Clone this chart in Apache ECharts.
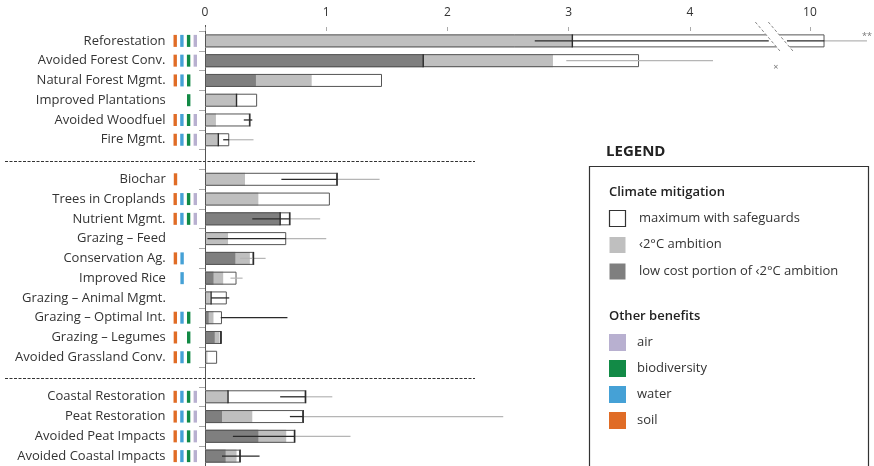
<!DOCTYPE html>
<html>
<head>
<meta charset="utf-8">
<script src="https://cdn.jsdelivr.net/npm/echarts@6/dist/echarts.min.js"></script>
<style>
  html, body { margin: 0; padding: 0; background: #fff; }
  #chart { width: 874px; height: 466px; }
</style>
</head>
<body>
<div id="chart"></div>
<script>
// rows top to bottom, '' and ' ' are the two spacer rows between sections
const categories = [
  'Reforestation', 'Avoided Forest Conv.', 'Natural Forest Mgmt.', 'Improved Plantations',
  'Avoided Woodfuel', 'Fire Mgmt.', '',
  'Biochar', 'Trees in Croplands', 'Nutrient Mgmt.', 'Grazing – Feed', 'Conservation Ag.',
  'Improved Rice', 'Grazing – Animal Mgmt.', 'Grazing – Optimal Int.', 'Grazing – Legumes',
  'Avoided Grassland Conv.', ' ',
  'Coastal Restoration', 'Peat Restoration', 'Avoided Peat Impacts', 'Avoided Coastal Impacts'
];
// s = soil, w = water, b = biodiversity, a = air
const benefits = [
  'swba', 'swba', 'swb', 'b', 'swba', 'swba', '',
  's', 'swba', 'swba', '', 'sw', 'w', '', 'swb', 'sb', 'swb', '',
  'swba', 'swba', 'swba', 'swba'
];
const lowCost  = [null, 1.80, 0.42, null, null, null, null, null, null, 0.62, null, 0.25, 0.07, null, 0.03, 0.08, null, null, null, 0.14, 0.44, 0.17];
const ambition = [3.03, 2.87, 0.88, 0.26, 0.09, 0.11, null, 0.33, 0.44, 0.62, 0.19, 0.37, 0.15, 0.04, 0.07, 0.12, 0.02, null, 0.19, 0.39, 0.67, 0.26];
const maximum  = [10.12, 3.58, 1.46, 0.43, 0.37, 0.20, null, 1.09, 1.03, 0.70, 0.67, 0.40, 0.26, 0.18, 0.14, 0.14, 0.10, null, 0.83, 0.81, 0.74, 0.29];
const blackLo  = [2.72, null, null, null, 0.32, 0.15, null, 0.63, null, 0.39, 0.02, null, null, 0.05, 0.13, null, null, null, 0.62, 0.70, 0.23, 0.14];
const blackHi  = [10.12, null, null, null, 0.39, 0.20, null, 1.09, null, 0.70, 0.67, null, null, 0.20, 0.68, null, null, null, 0.83, 0.81, 0.74, 0.45];
const greyLo   = [10.12, 2.98, null, null, null, 0.20, null, 1.09, null, 0.70, 0.67, 0.29, 0.21, null, null, null, null, null, 0.83, 0.81, 0.74, null];
const greyHi   = [10.47, 4.19, null, null, null, 0.40, null, 1.44, null, 0.95, 1.00, 0.50, 0.31, null, null, null, null, null, 1.05, 2.46, 1.20, null];
const tickMarks = [
  [3.03], [1.80], [], [0.26], [0.37], [0.11], [],
  [1.09], [], [0.62, 0.70], [], [0.40], [], [0.05], [], [0.13], [], [],
  [0.19, 0.83], [0.81], [0.74], [0.29]
];
const xTicks = [0, 1, 2, 3, 4, 10];
const axisBreak = [4.65, 9.81];

const mitigationLegend = ['maximum with safeguards', '‹2°C ambition', 'low cost portion of ‹2°C ambition'];
const benefitLegend = ['air', 'biodiversity', 'water', 'soil'];

const FONT = 'Open Sans';
const TEXT = '#333';
const DARK = '#7f7f7f';
const LIGHT = '#bfbfbf';
const benefitColors = { s: '#e06c26', w: '#45a1d6', b: '#128a46', a: '#b8b0d0' };
const legendBenefitColors = ['#b8b0d0', '#128a46', '#45a1d6', '#e06c26'];

const chart = echarts.init(document.getElementById('chart'));

function splitAtBreak(lo, hi) {
  if (lo < axisBreak[0] && hi > axisBreak[1]) return [[lo, axisBreak[0]], [axisBreak[1], hi]];
  return [[lo, hi]];
}

const richLabel = {
  n: { fontFamily: FONT, fontSize: 13, color: TEXT },
  g: { width: 8 },
  p: { width: 3.3 },
  e: { width: 3.3 }
};
Object.keys(benefitColors).forEach(k => {
  richLabel[k] = { width: 3.4, height: 12, backgroundColor: benefitColors[k] };
});

chart.setOption({
  animation: false,
  grid: { left: 205, right: 3.4, top: 31, height: 436, containLabel: false },
  xAxis: {
    type: 'value',
    position: 'top',
    min: 0,
    max: 10.5,
    breaks: [{ start: axisBreak[0], end: axisBreak[1], gap: 0.15 }],
    breakArea: { show: false },
    axisLine: { show: false },
    splitLine: { show: false },
    axisTick: { show: true, length: 4, customValues: xTicks, lineStyle: { color: '#aaa' } },
    axisLabel: { customValues: xTicks, color: TEXT, fontFamily: FONT, fontSize: 12, margin: 12 }
  },
  yAxis: {
    type: 'category',
    inverse: true,
    data: categories,
    axisLine: { show: true, lineStyle: { color: '#555', width: 1 } },
    axisTick: { show: true, length: 6, lineStyle: { color: '#aaa' } },
    axisLabel: {
      margin: 8,
      interval: 0,
      formatter: (value, index) => {
        if (!value.trim()) return '';
        const b = benefits[index];
        const marks = ['s', 'w', 'b', 'a'].map(k => (b.includes(k) ? '{' + k + '| }' : '{e| }'));
        return '{n|' + value + '}{g| }' + marks.join('{p| }');
      },
      rich: richLabel
    }
  },
  series: [
    {
      name: '‹2°C ambition', type: 'bar', data: ambition, barWidth: 13, barGap: '-100%',
      itemStyle: { color: LIGHT }
    },
    {
      name: 'low cost portion of ‹2°C ambition', type: 'bar', data: lowCost, barWidth: 13, barGap: '-100%',
      itemStyle: { color: DARK }
    },
    {
      name: 'maximum with safeguards', type: 'bar', data: maximum, barWidth: 13, barGap: '-100%',
      itemStyle: { color: 'rgba(255,255,255,0)', borderColor: '#555', borderWidth: 1 }
    },
    {
      name: 'uncertainty', type: 'custom', clip: false, z: 5,
      data: categories.map((c, i) => [0, i]),
      encode: { x: 0, y: 1 },
      renderItem: (params, api) => {
        const i = params.dataIndex;
        const y = api.coord([0, i])[1];
        const children = [];
        const addLine = (lo, hi, stroke, w) => {
          if (lo == null || hi == null) return;
          splitAtBreak(lo, hi).forEach(([a, b]) => {
            children.push({
              type: 'line',
              shape: { x1: api.coord([a, i])[0], y1: y, x2: api.coord([b, i])[0], y2: y },
              style: { stroke, lineWidth: w }
            });
          });
        };
        addLine(greyLo[i], greyHi[i], '#b5b5b5', 1.2);
        addLine(blackLo[i], blackHi[i], '#2a2a2a', 1.3);
        tickMarks[i].forEach(v => {
          const x = api.coord([v, i])[0];
          children.push({
            type: 'line',
            shape: { x1: x, y1: y - 6.5, x2: x, y2: y + 6.5 },
            style: { stroke: '#2a2a2a', lineWidth: 1.4 }
          });
        });
        return { type: 'group', children };
      }
    }
  ]
});

// decorations positioned from the axes
const px = v => chart.convertToPixel({ xAxisIndex: 0 }, v);
const py = i => chart.convertToPixel({ yAxisIndex: 0 }, i);
const breakX = (px(axisBreak[0]) + px(axisBreak[1])) / 2;
const rowY = py(0);
const slope = 0.85;
const slash = (dx) => [
  [breakX + dx - slope * (rowY - 22), 22],
  [breakX + dx + slope * (52 - rowY), 52]
];
const s1 = slash(-6.5), s2 = slash(6.5);
const axisX = px(0);

const graphics = [
  {
    type: 'polygon', z: 10,
    shape: { points: [s1[0], s2[0], s2[1], s1[1]] },
    style: { fill: '#fff' }
  },
  { type: 'line', z: 11, shape: { x1: s1[0][0], y1: s1[0][1], x2: s1[1][0], y2: s1[1][1] }, style: { stroke: '#888', lineWidth: 1, lineDash: [3, 2] } },
  { type: 'line', z: 11, shape: { x1: s2[0][0], y1: s2[0][1], x2: s2[1][0], y2: s2[1][1] }, style: { stroke: '#888', lineWidth: 1, lineDash: [3, 2] } },
  { type: 'text', z: 11, x: px(10.47), y: rowY - 4, style: { text: '**', font: '9px ' + FONT, fill: '#777', align: 'center', verticalAlign: 'middle' } },
  { type: 'text', z: 11, x: breakX - 2, y: (py(1) + py(2)) / 2 - 3, style: { text: '×', font: '9px ' + FONT, fill: '#777', align: 'center', verticalAlign: 'middle' } },
  // the vertical axis line starts a little above the plot in the reference
  { type: 'line', shape: { x1: axisX + 0.5, y1: 25, x2: axisX + 0.5, y2: 31 }, style: { stroke: '#555', lineWidth: 1 } }
];

// dashed section separators
categories.forEach((c, i) => {
  if (c.trim()) return;
  const y = Math.round(py(i)) + 1.5;
  graphics.push({
    type: 'line', shape: { x1: 5, y1: y, x2: 475, y2: y },
    style: { stroke: '#333', lineWidth: 1, lineDash: [3, 1.5] }
  });
});

// legend panel
graphics.push(
  { type: 'text', x: 606, y: 152, style: { text: 'LEGEND', font: 'bold 15px ' + FONT, fill: '#222', verticalAlign: 'middle' } },
  { type: 'rect', shape: { x: 589.5, y: 166.5, width: 279, height: 320 }, style: { fill: '#fff', stroke: '#333', lineWidth: 1.2 } },
  { type: 'text', x: 609, y: 192, style: { text: 'Climate mitigation', font: '600 13px ' + FONT, fill: '#222', verticalAlign: 'middle' } },
  { type: 'text', x: 609, y: 316, style: { text: 'Other benefits', font: '600 13px ' + FONT, fill: '#222', verticalAlign: 'middle' } }
);
const mitigationStyles = [
  { fill: '#fff', stroke: '#333', lineWidth: 1.2 },
  { fill: LIGHT },
  { fill: DARK }
];
mitigationLegend.forEach((name, k) => {
  const cy = 218 + k * 26.5;
  graphics.push(
    { type: 'rect', shape: { x: 609.5, y: cy - 7.5, width: 16, height: 16 }, style: mitigationStyles[k] },
    { type: 'text', x: 639, y: cy, style: { text: name, font: '13px ' + FONT, fill: TEXT, verticalAlign: 'middle' } }
  );
});
benefitLegend.forEach((name, k) => {
  const cy = 342 + k * 26;
  graphics.push(
    { type: 'rect', shape: { x: 609, y: cy - 8, width: 17, height: 17 }, style: { fill: legendBenefitColors[k] } },
    { type: 'text', x: 637, y: cy, style: { text: name, font: '13px ' + FONT, fill: TEXT, verticalAlign: 'middle' } }
  );
});

chart.setOption({ graphic: graphics });
</script>
</body>
</html>
